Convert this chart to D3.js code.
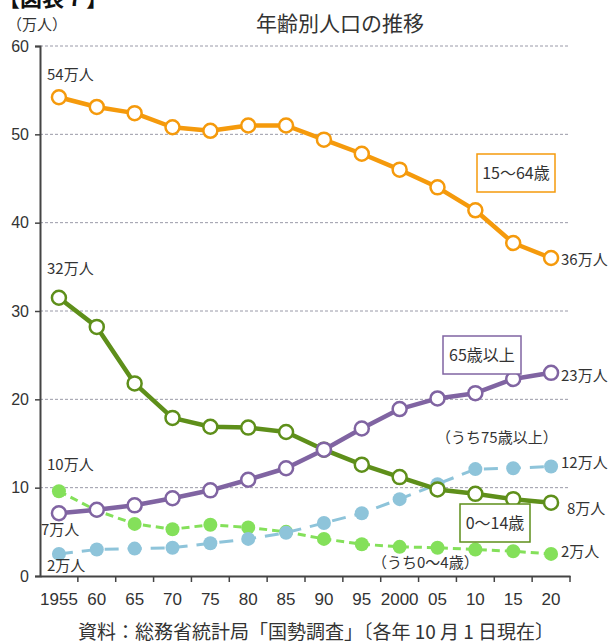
<!DOCTYPE html>
<html><head><meta charset="utf-8">
<script src="https://cdn.jsdelivr.net/npm/d3@7"></script>
<style>
body{margin:0;background:#fff;}
text{font-family:"Liberation Sans Narrow","Noto Sans CJK JP",sans-serif;fill:#333;}
</style></head>
<body><svg id="c" width="611" height="643"></svg>
<script>
const years = ["1955","60","65","70","75","80","85","90","95","2000","05","10","15","20"];
const yTicks = [0,10,20,30,40,50,60];
const age15_64 = [54.2,53.1,52.4,50.8,50.4,51.0,51.0,49.4,47.8,46.0,44.0,41.4,37.7,36.0];
const age0_14  = [31.5,28.2,21.8,17.9,16.9,16.8,16.3,14.3,12.6,11.2,9.8,9.3,8.7,8.3];
const age65    = [7.1,7.5,8.0,8.8,9.7,10.9,12.2,14.3,16.7,18.9,20.1,20.7,22.3,23.0];
const age0_4   = [9.6,7.4,5.9,5.3,5.8,5.5,5.0,4.2,3.6,3.3,3.2,3.0,2.8,2.5];
const age75    = [2.5,3.0,3.1,3.2,3.7,4.2,4.9,6.0,7.1,8.7,10.4,12.1,12.2,12.4];

const svg = d3.select("#c");
const x = d3.scaleBand().domain(years).range([40,570]).padding(0);
const y = d3.scaleLinear().domain([0,60]).range([576,46]);
const cx = d => x(d) + x.bandwidth()/2;

// cut-off header
svg.append("text").attr("x",-2).attr("y",6).attr("font-size",22).attr("font-weight","bold")
  .style("font-family","Noto Sans CJK JP").style("fill","#111").text("【図表７】");

// title
svg.append("text").attr("x",340).attr("y",31).attr("text-anchor","middle").attr("font-size",21)
  .style("font-family","Noto Sans CJK JP").text("年齢別人口の推移");
svg.append("text").attr("x",7).attr("y",30).attr("font-size",15)
  .style("font-family","Noto Sans CJK JP").text("（万人）");

// gridlines
svg.append("g").selectAll("line").data(yTicks.filter(d=>d>0)).join("line")
  .attr("x1",40).attr("x2",570).attr("y1",d=>y(d)).attr("y2",d=>y(d))
  .attr("stroke","#9a9aa8").attr("stroke-width",1).attr("stroke-dasharray","3,2");

// axes
const ya = svg.append("g").attr("transform","translate(40,0)")
  .call(d3.axisLeft(y).tickValues(yTicks).tickSize(5).tickPadding(6));
ya.select(".domain").attr("stroke","#444").attr("stroke-width",2);
ya.selectAll(".tick line").attr("stroke","#444").attr("stroke-width",1.5);
ya.selectAll(".tick text").attr("font-size",16).style("font-family","'Liberation Sans Narrow',sans-serif").style("fill","#333");

const xa = svg.append("g").attr("transform","translate(0,576)")
  .call(d3.axisBottom(x).tickSize(0).tickPadding(17));
xa.select(".domain").attr("stroke","#444").attr("stroke-width",2);
xa.selectAll(".tick text").attr("font-size",17).style("font-family","'Liberation Sans Narrow',sans-serif").style("fill","#333");
// band-boundary ticks
svg.append("g").selectAll("line").data(years.slice(1).concat(["end"])).join("line")
  .attr("x1",(d,i)=> i<years.length-1 ? x(d) : 570).attr("x2",(d,i)=> i<years.length-1 ? x(d) : 570)
  .attr("y1",576).attr("y2",582).attr("stroke","#444").attr("stroke-width",1.5);

const line = d3.line().x((d,i)=>cx(years[i])).y(d=>y(d));

function series(vals,color,opts){
  svg.append("path").datum(vals).attr("d",line).attr("fill","none")
    .attr("stroke",color).attr("stroke-width",opts.w)
    .attr("stroke-dasharray",opts.dash||null).attr("stroke-linejoin","round");
  svg.append("g").selectAll("circle").data(vals).join("circle")
    .attr("cx",(d,i)=>cx(years[i])).attr("cy",d=>y(d)).attr("r",opts.r)
    .attr("fill",opts.filled?color:"#fff").attr("stroke",color).attr("stroke-width",opts.filled?0:2.5);
}
series(age0_4,"#84e05a",{w:3,dash:"8,5",r:7,filled:true});
series(age75,"#8ec4da",{w:3,dash:"14,9",r:7,filled:true});
series(age15_64,"#f59a0c",{w:4.5,r:7});
series(age0_14,"#5e8f1a",{w:4.5,r:7});
series(age65,"#8064a2",{w:4.5,r:7});

// data labels
const lab = (tx,xx,yy,anchor)=>svg.append("text").attr("x",xx).attr("y",yy).attr("font-size",15)
  .attr("text-anchor",anchor||"start").text(tx);
lab("54万人",47,80);
lab("32万人",47,274);
lab("10万人",47,470);
lab("7万人",41,535);
lab("2万人",47,571);
lab("36万人",561,265);
lab("23万人",561,381);
lab("12万人",561,468);
lab("8万人",567,514);
lab("2万人",561,557);
lab("（うち75歳以上）",436,443);
lab("（うち0～4歳）",372,568);

// legend boxes
function box(tx,x0,y0,w,h,color){
  svg.append("rect").attr("x",x0).attr("y",y0).attr("width",w).attr("height",h)
    .attr("fill","#fff").attr("stroke",color).attr("stroke-width",1.5);
  svg.append("text").attr("x",x0+w/2).attr("y",y0+h/2+6).attr("text-anchor","middle")
    .attr("font-size",16).text(tx);
}
box("15～64歳",477,154,78,38,"#f59a0c");
box("65歳以上",443,336,78,38,"#8064a2");
box("0～14歳",460,504,70,38,"#5e8f1a");

// source
svg.append("text").attr("x",316).attr("y",639).attr("text-anchor","middle").attr("font-size",19)
  .style("font-family","Noto Sans CJK JP").text("資料：総務省統計局「国勢調査」〔各年 10 月 1 日現在〕");
</script></body></html>
